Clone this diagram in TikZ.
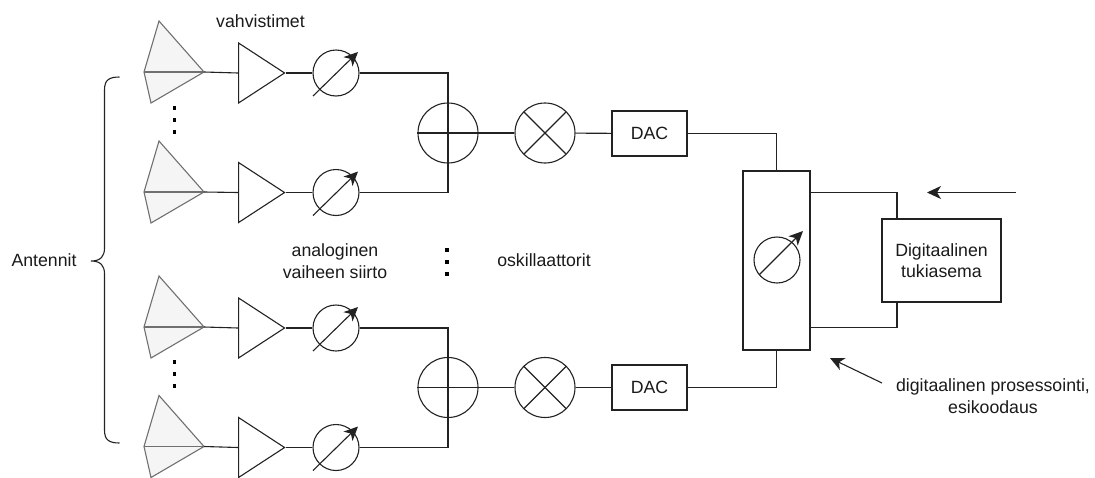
\documentclass[tikz,border=0pt]{standalone}
\usepackage{fontspec}
\setmainfont{Liberation Sans}
\usetikzlibrary{arrows.meta,shapes.geometric}
\definecolor{antfill}{HTML}{F5F5F5}
\definecolor{antline}{HTML}{707070}
\definecolor{txt}{HTML}{1A1A1A}
\definecolor{wire}{HTML}{222222}
\tikzset{%
	block/.style    = {draw, rectangle, inner sep = 0pt, align = center},
	ampl/.style     = {draw, isosceles triangle, isosceles triangle stretches,
		minimum width = 60pt, minimum height = 46pt, inner sep = 0pt, anchor = lower side}, % Amplifier
	shifter/.style  = {draw, circle, minimum size = 46pt, inner sep = 0pt}, % Phase shifter
	adder/.style    = {draw, circle, minimum size = 60pt, inner sep = 0pt}, % Adder
	mixer/.style    = {draw, circle, minimum size = 60pt, inner sep = 0pt,
		path picture = {
			\draw (path picture bounding box.north west) -- (path picture bounding box.south east);
			\draw (path picture bounding box.north east) -- (path picture bounding box.south west);
		}}, % Oscillator
	dotmark/.style  = {fill = black, rectangle, minimum size = 3.4pt, inner sep = 0pt},
	label/.style    = {text = txt, align = center, inner sep = 0pt},
	tune/.style     = {-{Stealth[length = 14pt, width = 13pt, inset = 4pt]}},
	antenna/.pic    = {
		\draw[antline, fill = antfill] (0,0) -- (15,-51) -- (60,0) -- (7,31) -- cycle;
		\draw[antline] (0,0) -- (60,0);
		\coordinate (-tip) at (60,0);
	}
}
\newcommand{\tunearrow}[1]{\draw[tune] ([shift={(-23,23)}]#1.center) -- ([shift={(22,-21)}]#1.center);}

\begin{document}
\begin{tikzpicture}[x=1pt, y=-1pt, line width=1.1pt, draw=wire, font=\fontsize{17.7}{21.5}\selectfont]
	\useasboundingbox (0,0) rectangle (1095,477);

	\pic (ant1) at (144,72) {antenna};
	\pic (ant2) at (144,192) {antenna};
	\pic (ant3) at (144,327) {antenna};
	\pic (ant4) at (144,446.5) {antenna};

	\node[ampl] (amp1) at (238,73) {};
	\node[ampl] (amp2) at (238,192.5) {};
	\node[ampl] (amp3) at (238,328) {};
	\node[ampl] (amp4) at (238,447.5) {};

	\node[shifter] (sh1) at (336,73) {};
	\node[shifter] (sh2) at (336,192.5) {};
	\node[shifter] (sh3) at (336,328) {};
	\node[shifter] (sh4) at (336,447.5) {};
	\tunearrow{sh1}
	\tunearrow{sh2}
	\tunearrow{sh3}
	\tunearrow{sh4}

	\node[adder] (add1) at (448,133) {};
	\node[adder] (add2) at (448,387.5) {};
	\node[mixer] (mix1) at (545,133) {};
	\node[mixer] (mix2) at (545,387.5) {};
	\node[block, minimum width=75pt, minimum height=45pt, label] (dac1) at (649.5,133.5) {DAC};
	\node[block, minimum width=75pt, minimum height=45pt, label] (dac2) at (649.5,387.5) {DAC};

	\node[block, minimum width=67pt, minimum height=179pt] (proc) at (776.5,260.5) {};
	\node[shifter] (sh5) at (777,260) {};
	\draw[tune] ([shift={(-18,15)}]sh5.center) -- ([shift={(26,-29)}]sh5.center);
	\node[block, minimum width=119pt, minimum height=83pt, label] (base) at (941.5,260.5) {Digitaalinen\\tukiasema};

	% connectors
	\draw (ant1-tip) -- (amp1.lower side);
	\draw (ant2-tip) -- (amp2.lower side);
	\draw (ant3-tip) -- (amp3.lower side);
	\draw (ant4-tip) -- (amp4.lower side);
	\draw (amp1.apex) -- (sh1);
	\draw (amp2.apex) -- (sh2);
	\draw (amp3.apex) -- (sh3);
	\draw (amp4.apex) -- (sh4);
	\draw (sh1) -| (add1.center);
	\draw (sh2) -| (add1.center);
	\draw (sh3) -| (add2.center);
	\draw (sh4) -| (add2.center);
	\draw (add1.west) -- (mix1);
	\draw (add2.west) -- (mix2);
	\draw (mix1) -- (dac1);
	\draw (mix2) -- (dac2);
	\draw (dac1) -| (proc);
	\draw (dac2) -| (proc);

	\coordinate (top) at (897,192.5);
	\coordinate (bot) at (897,327.5);
	\draw (top -| proc.east) -- (top) -- (top |- base.north);
	\draw (bot -| proc.east) -- (bot) -- (bot |- base.south);

	\coordinate (in1) at (1016,192.5);
	\coordinate (in2) at (927,192.5);
	\draw[tune] (in1) -- (in2);
	\coordinate (pr1) at (882,383);
	\coordinate (pr2) at (830,358);
	\draw[tune] (pr1) -- (pr2);

	% brace
	\draw (119.5,77) .. controls (109,77) and (104.5,80) .. (104.5,90) -- (104.5,248)
		.. controls (104.5,256) and (101,261) .. (91,261)
		.. controls (101,261) and (104.5,266) .. (104.5,274) -- (104.5,430)
		.. controls (104.5,440) and (109,443) .. (119.5,443);

	\node[dotmark] (d1) at (174.5,108) {};
	\node[dotmark] (d2) at (174.5,120) {};
	\node[dotmark] (d3) at (174.5,132) {};
	\node[dotmark] (d4) at (174.5,362) {};
	\node[dotmark] (d5) at (174.5,374) {};
	\node[dotmark] (d6) at (174.5,386) {};
	\node[dotmark] (d7) at (447,250) {};
	\node[dotmark] (d8) at (447,262) {};
	\node[dotmark] (d9) at (447,274) {};

	\node[label] (lamp) at (260.5,21) {vahvistimet};
	\node[label] (lant) at (44,260) {Antennit};
	\node[label] (lph) at (335,261) {analoginen\\vaiheen siirto};
	\node[label] (losc) at (544,260) {oskillaattorit};
	\node[label] (ldig) at (993,396) {digitaalinen prosessointi,\\esikoodaus};
\end{tikzpicture}
\end{document}
